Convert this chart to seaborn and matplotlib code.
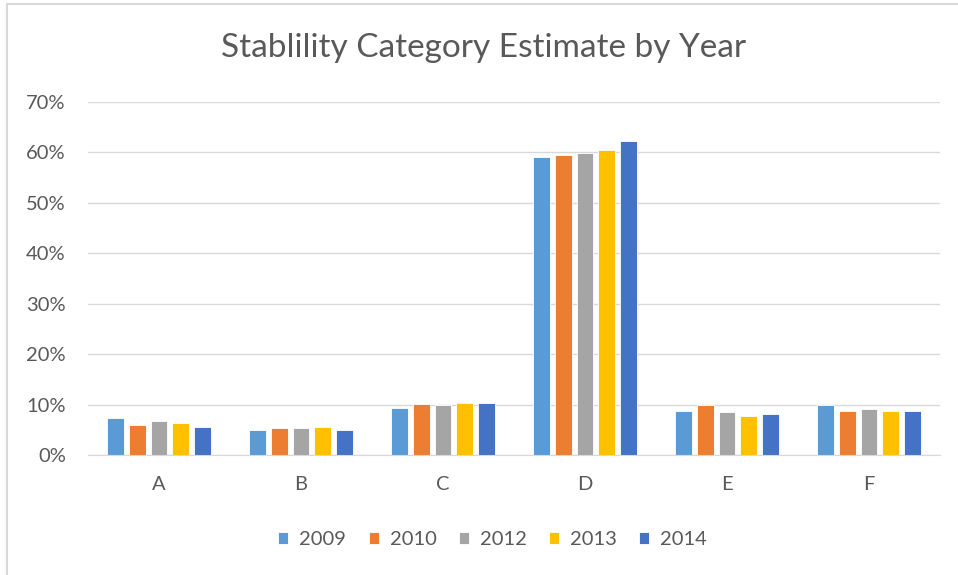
import pandas as pd
import seaborn as sns
import matplotlib.pyplot as plt
from matplotlib.lines import Line2D
from matplotlib.ticker import PercentFormatter

# ---- data ----
CATEGORIES = ["A", "B", "C", "D", "E", "F"]
YEARS = ["2009", "2010", "2012", "2013", "2014"]
V2009 = [7.4, 4.9, 9.3, 59.1, 8.8, 9.9]
V2010 = [6.0, 5.4, 10.1, 59.4, 9.9, 8.8]
V2012 = [6.7, 5.4, 9.9, 59.9, 8.6, 9.1]
V2013 = [6.4, 5.6, 10.3, 60.4, 7.8, 8.8]
V2014 = [5.6, 4.9, 10.3, 62.2, 8.1, 8.8]
COLORS = ["#5B9BD5", "#ED7D31", "#A5A5A5", "#FFC000", "#4472C4"]

rows = []
for year, vals in zip(YEARS, [V2009, V2010, V2012, V2013, V2014]):
    for cat, v in zip(CATEGORIES, vals):
        rows.append({"Category": cat, "Year": year, "Value": v})
df = pd.DataFrame(rows)

sns.set_style("white")
plt.rcParams["font.family"] = ["Lato", "DejaVu Sans"]

fig = plt.figure(figsize=(9.58, 5.75), dpi=100)
ax = fig.add_axes([88 / 958, 1 - 455 / 575, (940 - 88) / 958, (455 - 102) / 575])

sns.barplot(
    data=df, x="Category", y="Value", hue="Year",
    palette=COLORS, saturation=1, width=0.76, gap=0.22,
    edgecolor="white", linewidth=0.6, ax=ax,
)

ax.set_ylim(0, 70)
ax.set_yticks(range(0, 71, 10))
ax.yaxis.set_major_formatter(PercentFormatter(decimals=0))
ax.grid(axis="y", color="#d9d9d9", linewidth=1)
ax.set_axisbelow(True)
for s in ["top", "right", "left"]:
    ax.spines[s].set_visible(False)
ax.spines["bottom"].set_color("#d9d9d9")
ax.tick_params(axis="both", length=0, colors="#595959", labelsize=14.5)
ax.tick_params(axis="x", pad=15)
ax.tick_params(axis="y", pad=16)
ax.set_xlabel("")
ax.set_ylabel("")

fig.text(0.505, 1 - 48 / 575, "Stablility Category Estimate by Year",
         ha="center", va="center", fontsize=24, color="#595959")

ax.legend(
    loc="center", bbox_to_anchor=(0.475, -0.24), ncol=5, frameon=False,
    fontsize=14.5, handlelength=0.5, handleheight=0.5, handletextpad=0.55,
    columnspacing=1.1, labelcolor="#595959",
)

# chart frame (left and top edges visible in the reference)
fig.add_artist(Line2D([7 / 958, 7 / 958], [0, 1 - 4 / 575], color="#d9d9d9", lw=1.5))
fig.add_artist(Line2D([7 / 958, 1], [1 - 4 / 575, 1 - 4 / 575], color="#d9d9d9", lw=1.5))

fig.savefig("out.png", dpi=100)
